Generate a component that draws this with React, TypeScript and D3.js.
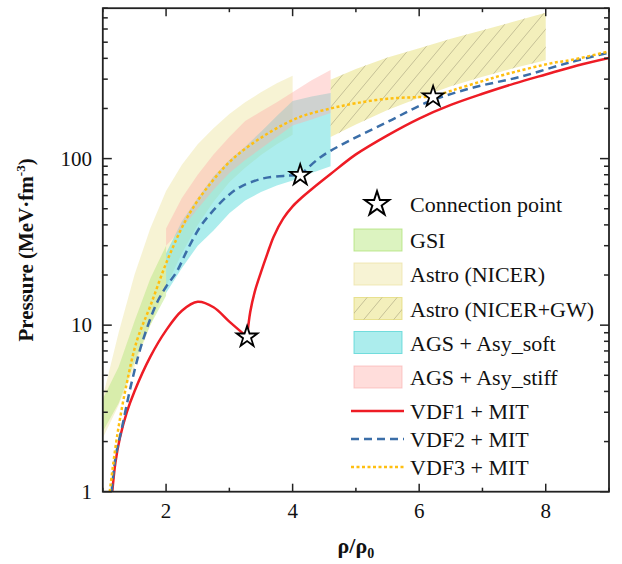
import React from 'react';
import * as d3 from 'd3';

// ---------- data ----------
const xMajorTicks = [2, 4, 6, 8];
const xMinorTicks = [1, 3, 5, 7, 9];
const yMajorTicks = [1, 10, 100];
const yTickLabels = ['1', '10', '100'];

// GSI band
const gsiRho = [1.0, 1.25, 1.5, 1.75, 2.0];
const gsiLo = [2.3, 3.4, 6.0, 10, 15];
const gsiHi = [3.6, 5.6, 10.5, 19, 30];

// Astro (NICER)
const nicerRho = [1.0, 1.25, 1.5, 1.75, 2.0, 2.25, 2.5, 2.75, 3.0, 3.25, 3.5, 3.75, 4.0];
const nicerLo = [2.1, 3.3, 5.6, 10, 17, 27, 40, 55, 72, 88, 105, 122, 139];
const nicerHi = [3.7, 9, 20, 38, 64, 92, 122, 152, 185, 218, 250, 283, 314];

// Astro (NICER+GW)
const gwRho = [4.6, 5.0, 5.5, 6.0, 6.5, 7.0, 7.5, 8.0];
const gwLo = [135, 160, 196, 232, 272, 310, 350, 390];
const gwHi = [297, 345, 404, 460, 525, 590, 665, 750];

// AGS + Asy_soft
const softRho = [2.0, 2.25, 2.5, 2.75, 3.0, 3.25, 3.5, 3.75, 4.0, 4.3, 4.6];
const softLo = [15.6, 22, 30, 37, 47, 56, 63, 69, 74, 82, 90];
const softHi = [27, 42, 58, 78, 98, 118, 145, 180, 222, 236, 248];

// AGS + Asy_stiff
const stiffRho = [2.0, 2.25, 2.5, 2.75, 3.0, 3.25, 3.5, 3.75, 4.0, 4.3, 4.6];
const stiffLo = [30, 38, 50, 65, 82, 98, 115, 135, 158, 172, 188];
const stiffHi = [38, 58, 80, 106, 135, 168, 192, 218, 250, 295, 340];

// VDF1 + MIT
const vdf1HadRho = [1.15, 1.2, 1.27, 1.38, 1.5, 1.75, 2.0, 2.25, 2.5, 2.75, 3.0, 3.28];
const vdf1HadP = [1.0, 1.5, 2.1, 3.0, 4.0, 6.45, 9.3, 12.2, 13.8, 12.8, 10.5, 8.5];
const vdf1QRho = [3.28, 3.33, 3.4, 3.5, 3.6, 3.7, 3.85, 4.0, 4.15, 4.3, 4.6, 5.0, 5.5, 6.0, 6.5, 7.0, 7.5, 8.0, 8.5, 9.0];
const vdf1QP = [8.5, 12, 15.8, 20.8, 26.8, 34, 43.6, 51.7, 58.6, 65.5, 80.8, 106, 138, 174, 210, 245, 282, 320, 362, 402];

// VDF2 + MIT
const vdf2HadRho = [1.14, 1.2, 1.3, 1.46, 1.62, 1.85, 2.0, 2.17, 2.33, 2.54, 2.75, 2.98, 3.17, 3.53, 3.91, 4.12];
const vdf2HadP = [1.0, 1.6, 2.4, 4.6, 7.8, 13.5, 17, 21, 28, 39, 49, 60, 67.5, 76, 79, 79.5];
const vdf2QRho = [4.12, 4.44, 4.86, 5.5, 6.13, 6.82, 7.6, 8.4, 9.0];
const vdf2QP = [79.5, 102, 126, 166, 218, 265, 310, 380, 433];

// VDF3 + MIT
const vdf3HadRho = [1.11, 1.23, 1.38, 1.54, 1.75, 2.02, 2.33, 2.65, 3.06, 3.6, 4.12, 4.6, 5.0, 5.5, 6.0, 6.22];
const vdf3HadP = [1.0, 2.2, 4.5, 8.1, 13, 24.5, 44, 67, 100, 141, 178, 200, 215, 229, 234, 235];
const vdf3QRho = [6.22, 6.54, 7.0, 7.33, 8.12, 8.39, 9.0];
const vdf3QP = [235, 258, 292, 318, 376, 390, 440];

// connection points
const starRho = [3.28, 4.12, 6.22];
const starP = [8.5, 79.5, 235];

// ---------- layout ----------
const W = 622, H = 564;
const X0 = 102.8, X1 = 609, Y0 = 491.7, Y1 = 8.2;
const FONT = '"Liberation Serif", "Times New Roman", Tinos, "DejaVu Serif", serif';

const C_GSI = 'rgba(185,232,130,0.5)';
const C_NICER = 'rgba(240,232,170,0.5)';
const C_GW = 'rgba(232,224,120,0.5)';
const C_SOFT = 'rgba(90,220,220,0.5)';
const C_STIFF = 'rgba(255,175,170,0.42)';
const C_RED = '#ee1c25';
const C_BLUE = '#3b6ea8';
const C_YEL = '#ffbf10';

export default function App() {
  const x = d3.scaleLinear().domain([1, 9]).range([X0, X1]);
  const y = d3.scaleLog().domain([1, 800]).range([Y0, Y1]);

  const band = (rho: number[], lo: number[], hi: number[]) =>
    d3.area<number>()
      .x((i) => x(rho[i]))
      .y0((i) => y(lo[i]))
      .y1((i) => y(hi[i]))(rho.map((_, i) => i)) || '';

  const line = (rho: number[], p: number[]) =>
    d3.line<number>()
      .x((i) => x(rho[i]))
      .y((i) => y(p[i]))
      .curve(d3.curveCatmullRom.alpha(0.5))(rho.map((_, i) => i)) || '';

  const starPlot = d3.symbol().type(d3.symbolStar).size(136)() || '';
  const starLeg = d3.symbol().type(d3.symbolStar).size(185)() || '';

  const yMinor: number[] = [];
  [1, 10, 100].forEach((d) => {
    for (let k = 2; k <= 9; k++) if (d * k <= 800) yMinor.push(d * k);
  });

  const axisStroke = '#222';
  const ticks: JSX.Element[] = [];
  xMajorTicks.forEach((v, i) => {
    ticks.push(<line key={'xb' + i} x1={x(v)} x2={x(v)} y1={Y0} y2={Y0 - 8} />);
    ticks.push(<line key={'xt' + i} x1={x(v)} x2={x(v)} y1={Y1} y2={Y1 + 8} />);
  });
  xMinorTicks.forEach((v, i) => {
    ticks.push(<line key={'xbm' + i} x1={x(v)} x2={x(v)} y1={Y0} y2={Y0 - 4} />);
    ticks.push(<line key={'xtm' + i} x1={x(v)} x2={x(v)} y1={Y1} y2={Y1 + 4} />);
  });
  yMajorTicks.forEach((v, i) => {
    ticks.push(<line key={'yl' + i} x1={X0} x2={X0 + 9} y1={y(v)} y2={y(v)} />);
    ticks.push(<line key={'yr' + i} x1={X1} x2={X1 - 9} y1={y(v)} y2={y(v)} />);
  });
  yMinor.forEach((v, i) => {
    ticks.push(<line key={'ylm' + i} x1={X0} x2={X0 + 5} y1={y(v)} y2={y(v)} />);
    ticks.push(<line key={'yrm' + i} x1={X1} x2={X1 - 5} y1={y(v)} y2={y(v)} />);
  });

  const legX = 354, legW = 48, legH = 22, textX = 410;
  const swatches = [
    { label: 'GSI', fill: C_GSI, stroke: 'rgba(170,225,110,0.7)', cy: 240, hatch: false },
    { label: 'Astro (NICER)', fill: C_NICER, stroke: 'rgba(235,225,160,0.7)', cy: 274, hatch: false },
    { label: 'Astro (NICER+GW)', fill: C_GW, stroke: 'rgba(225,215,110,0.7)', cy: 308.5, hatch: true },
    { label: 'AGS + Asy_soft', fill: C_SOFT, stroke: 'rgba(70,210,210,0.7)', cy: 342.5, hatch: false },
    { label: 'AGS + Asy_stiff', fill: C_STIFF, stroke: 'rgba(248,170,170,0.6)', cy: 377, hatch: false },
  ];
  const lines = [
    { label: 'VDF1 + MIT', color: C_RED, dash: undefined as string | undefined, cy: 411 },
    { label: 'VDF2 + MIT', color: C_BLUE, dash: '8,5', cy: 439 },
    { label: 'VDF3 + MIT', color: C_YEL, dash: '3,2.5', cy: 467 },
  ];

  const tStyle = { fontFamily: FONT };

  return (
    <svg width={W} height={H} style={{ position: 'absolute', left: 0, top: 0, background: '#fff', fontFamily: FONT }}>
      <defs>
        <clipPath id="plotclip">
          <rect x={X0} y={Y1} width={X1 - X0} height={Y0 - Y1} />
        </clipPath>
        <pattern id="hatch" patternUnits="userSpaceOnUse" width="15" height="18">
          <line x1="0" y1="18" x2="15" y2="0" stroke="#b9b48c" strokeWidth="0.8" />
          <line x1="-15" y1="18" x2="0" y2="0" stroke="#b9b48c" strokeWidth="0.8" />
          <line x1="15" y1="18" x2="30" y2="0" stroke="#b9b48c" strokeWidth="0.8" />
        </pattern>
      </defs>
      <rect x={0} y={0} width={W} height={H} fill="#fff" />

      <g clipPath="url(#plotclip)">
        <path d={band(nicerRho, nicerLo, nicerHi)} fill={C_NICER} />
        <path d={band(gsiRho, gsiLo, gsiHi)} fill={C_GSI} />
        <path d={band(gwRho, gwLo, gwHi)} fill={C_GW} />
        <path d={band(gwRho, gwLo, gwHi)} fill="url(#hatch)" />
        <path d={band(softRho, softLo, softHi)} fill={C_SOFT} />
        <path d={band(stiffRho, stiffLo, stiffHi)} fill={C_STIFF} />

        <path d={line(vdf1HadRho, vdf1HadP)} fill="none" stroke={C_RED} strokeWidth={2.5} />
        <path d={line(vdf1QRho, vdf1QP)} fill="none" stroke={C_RED} strokeWidth={2.5} />
        <path d={line(vdf2HadRho, vdf2HadP)} fill="none" stroke={C_BLUE} strokeWidth={2.5} strokeDasharray="8,5" />
        <path d={line(vdf2QRho, vdf2QP)} fill="none" stroke={C_BLUE} strokeWidth={2.5} strokeDasharray="8,5" />
        <path d={line(vdf3HadRho, vdf3HadP)} fill="none" stroke={C_YEL} strokeWidth={2.5} strokeDasharray="3,2.5" />
        <path d={line(vdf3QRho, vdf3QP)} fill="none" stroke={C_YEL} strokeWidth={2.5} strokeDasharray="3,2.5" />

        {starRho.map((r, i) => (
          <path key={'s' + i} d={starPlot} transform={`translate(${x(r)},${y(starP[i])})`}
            fill="#fff" stroke="#000" strokeWidth={1.8} strokeLinejoin="miter" />
        ))}
      </g>

      {/* axes */}
      <g stroke={axisStroke} strokeWidth={1.5}>
        {ticks}
        <rect x={X0} y={Y1} width={X1 - X0} height={Y0 - Y1} fill="none" strokeWidth={1.8} />
      </g>

      {/* tick labels */}
      <g fontSize={21} fill="#111" style={tStyle}>
        {xMajorTicks.map((v, i) => (
          <text key={'xl' + i} x={x(v)} y={518} textAnchor="middle" style={tStyle}>{v}</text>
        ))}
        {yMajorTicks.map((v, i) => (
          <text key={'yl' + i} x={92} y={y(v) + 7} textAnchor="end" style={tStyle}>{yTickLabels[i]}</text>
        ))}
      </g>

      {/* axis titles */}
      <text x={(X0 + X1) / 2} y={553} textAnchor="middle" fontSize={22} fontWeight="bold" fill="#111" style={tStyle}>
        ρ/ρ<tspan fontSize={14} dy={5}>0</tspan>
      </text>
      <text transform={`translate(33,${(Y0 + Y1) / 2}) rotate(-90)`} textAnchor="middle"
        fontSize={21} fontWeight="bold" fill="#111" style={tStyle}>
        Pressure (MeV·fm<tspan fontSize={13} dy={-8}>-3</tspan><tspan dy={8}>)</tspan>
      </text>

      {/* legend */}
      <g fontSize={22} fill="#111" style={tStyle}>
        <path d={starLeg} transform="translate(377,204)" fill="#fff" stroke="#000" strokeWidth={2} />
        <text x={textX} y={212} style={tStyle}>Connection point</text>
        {swatches.map((s, i) => (
          <g key={'sw' + i}>
            <rect x={legX} y={s.cy - legH / 2} width={legW} height={legH} fill={s.fill}
              stroke={s.stroke} strokeWidth={1} />
            {s.hatch && (
              <rect x={legX} y={s.cy - legH / 2} width={legW} height={legH} fill="url(#hatch)" />
            )}
            <text x={textX} y={s.cy + 8} style={tStyle}>{s.label}</text>
          </g>
        ))}
        {lines.map((l, i) => (
          <g key={'ln' + i}>
            <line x1={351} x2={404} y1={l.cy} y2={l.cy} stroke={l.color} strokeWidth={2.5}
              strokeDasharray={l.dash} />
            <text x={textX} y={l.cy + 8} style={tStyle}>{l.label}</text>
          </g>
        ))}
      </g>
    </svg>
  );
}
